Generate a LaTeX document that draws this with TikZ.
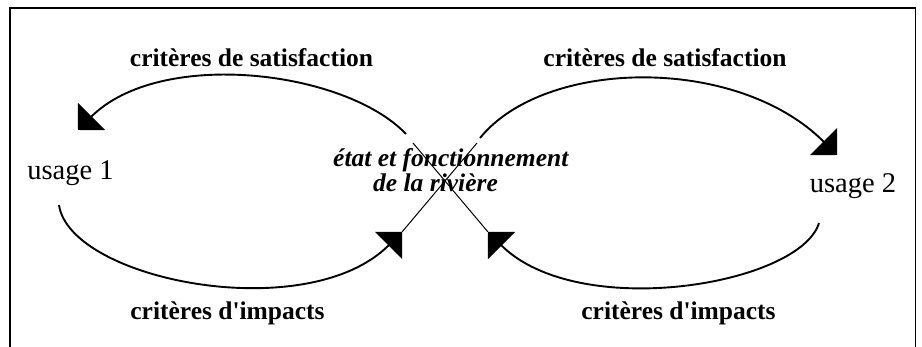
\documentclass[tikz,border=0pt]{standalone}
\usepackage{fontspec}
\setmainfont{Liberation Serif}[Ligatures=TeXOff]
\usetikzlibrary{arrows.meta}
\begin{document}
\begin{tikzpicture}[x=1pt,y=-1pt,
  frameline/.style={line width=1.8pt},
  loopline/.style={line width=1.9pt, -{Triangle[angle=90:27pt]}},
  crossline/.style={line width=1pt},
  crit/.style={font=\fontsize{25.5}{30}\selectfont\bfseries, inner sep=0pt, anchor=base},
  usage/.style={font=\fontsize{28.5}{34}\selectfont, inner sep=0pt, anchor=base},
  river/.style={font=\fontsize{25.5}{30}\selectfont\bfseries\itshape, inner sep=0pt, anchor=base west}]
\useasboundingbox (0,0) rectangle (922,347);

% open frame
\draw[frameline] (10.2,347) -- (10.2,8.2) -- (915.5,8.2) -- (915.5,347);

% labels
\node[crit] (satL) at (251.5,67) {critères de satisfaction};
\node[crit] (satR) at (665,67) {critères de satisfaction};
\node[crit] (impL) at (227.5,320) {critères d'impacts};
\node[crit] (impR) at (678.5,320) {critères d'impacts};
\node[usage] (u1) at (70.5,180) {usage 1};
\node[usage] (u2) at (853,192.7) {usage 2};
\node[river] (riv1) at (333,167) {état et fonctionnement};
\node[river] (riv2) at (373,192) {de la rivière};

% loop end points
\coordinate (s1) at (406,134);
\coordinate (t1) at (78,130);
\coordinate (s2) at (480,138);
\coordinate (t2) at (837,155);
\coordinate (s3) at (59,205);
\coordinate (t3) at (402,232);
\coordinate (s4) at (819,223);
\coordinate (t4) at (488,232);
\coordinate (c1) at (413,143);
\coordinate (c2) at (477,143);

% the two loops
\draw[loopline] (s1) .. controls (345,70) and (160,48) .. (t1);
\draw[loopline] (s2) .. controls (545,58) and (737,55) .. (t2);
\draw[loopline] (s3) .. controls (70,280) and (307,327) .. (t3);
\draw[loopline] (s4) .. controls (800,285) and (578,322) .. (t4);

% crossing in the middle
\draw[crossline] (c1) -- (t4);
\draw[crossline] (c2) -- (t3);
\end{tikzpicture}
\end{document}
